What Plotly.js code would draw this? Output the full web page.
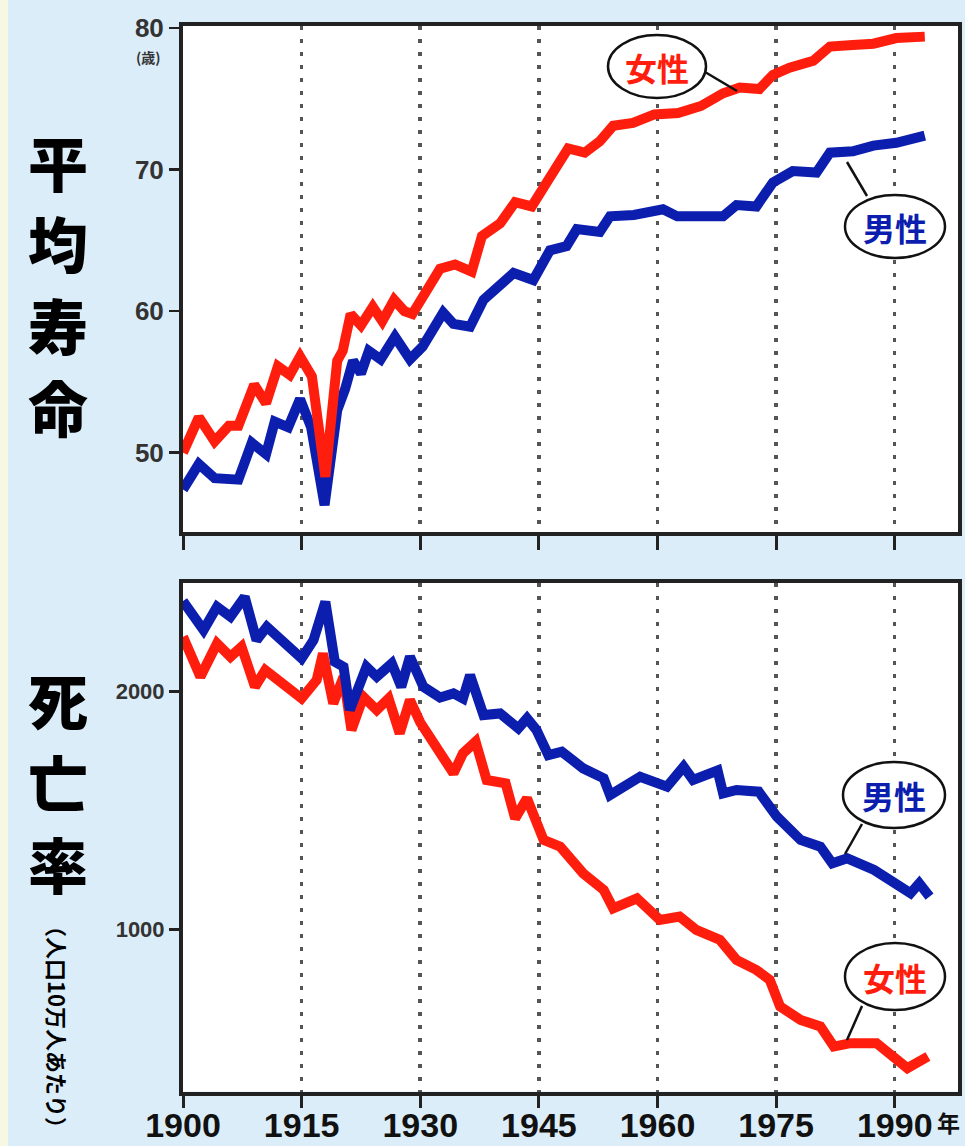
<!DOCTYPE html>
<html><head><meta charset="utf-8">
<script src="https://cdn.plot.ly/plotly-3.0.1.min.js"></script>
<style>html,body{margin:0;padding:0;background:#dbedf9;} #chart{width:965px;height:1146px;}</style>
</head><body><div id="chart"></div>
<script>
// ---- Data ----
const lifeYearsF = [1900,1902,1904,1905.8,1907,1909,1910.5,1912,1913.5,1914.8,1916.3,1918,1919.5,1920.2,1921.2,1922.5,1924,1925.2,1926.7,1928,1929,1930.6,1932.5,1934.4,1936.5,1937.8,1940.1,1942,1944.1,1946,1948.7,1950.8,1952.7,1954.4,1956.9,1959.6,1962.6,1965.5,1968.3,1970.4,1972.9,1974.6,1976.7,1979.7,1981.8,1984.7,1987.3,1990.2,1992.3,1993.8];
const lifeF      = [50.0,52.5,50.8,51.9,51.9,54.8,53.5,56.1,55.5,56.8,55.4,48.3,56.5,57.2,59.8,59.0,60.3,59.3,60.8,60.0,59.8,61.3,63.0,63.3,62.8,65.3,66.2,67.7,67.4,69.1,71.5,71.2,72.0,73.1,73.3,73.9,74.0,74.5,75.4,75.8,75.7,76.7,77.2,77.7,78.7,78.8,78.9,79.3,79.4,79.4];
const lifeYearsM = [1900,1902,1904,1907,1908.7,1910.5,1911.6,1913.3,1914.8,1916.2,1917.9,1919.5,1920.5,1921.5,1922.5,1923.5,1925,1926.8,1928.7,1930.3,1932.9,1934.2,1936.3,1938,1941.8,1944.3,1946.4,1948.5,1949.8,1952.7,1954,1957,1960.7,1962.5,1968.3,1970,1972.5,1974.6,1977.1,1980.1,1981.8,1984.7,1987.3,1990.2,1993.8];
const lifeM      = [47.4,49.2,48.2,48.1,50.7,49.9,52.2,51.8,53.8,51.8,46.3,53.0,54.5,56.5,55.6,57.2,56.6,58.2,56.6,57.5,59.9,59.1,58.9,60.8,62.7,62.2,64.3,64.6,65.8,65.6,66.7,66.8,67.2,66.7,66.7,67.5,67.4,69.1,69.9,69.8,71.2,71.3,71.7,71.9,72.4];

const mortYearsM = [1900,1902.6,1904.3,1906,1907.8,1909.3,1910.6,1915,1916.5,1918,1919.2,1920.3,1921.1,1923.2,1924.5,1926.4,1927.6,1928.7,1930.4,1932.5,1934.2,1935.4,1936.3,1938,1940.1,1942.4,1943.5,1944.7,1946.2,1947.9,1950.6,1953.2,1954,1955.7,1957.8,1961.2,1963.3,1964.5,1967.6,1968.3,1970,1972.8,1975.1,1978.1,1980.6,1982.1,1984,1987.4,1989.9,1992,1993.1,1994.4];
const mortM      = [2380,2258,2356,2314,2398,2216,2272,2139,2216,2377,2125,2104,1922,2104,2062,2118,2020,2146,2020,1975,1992,1971,2069,1901,1908,1845,1887,1838,1733,1747,1677,1635,1565,1600,1642,1600,1684,1628,1668,1572,1586,1579,1474,1376,1348,1278,1299,1250,1194,1152,1194,1138];
const mortYearsF = [1900,1902.2,1904.3,1906,1907.4,1909.1,1910.4,1915,1916.9,1917.7,1919,1920.3,1921.3,1922.8,1924.5,1926,1927.4,1928.7,1930,1932.3,1934.2,1935.4,1937,1938.4,1940.8,1942,1943.5,1945.6,1947.7,1950.6,1953.2,1954.4,1957.4,1960.3,1962.8,1964.9,1967.9,1970,1972.5,1974.2,1975.5,1978.1,1980.6,1982.3,1984.4,1987.7,1989.9,1991.6,1994.2];
const mortF      = [2230,2062,2202,2146,2188,2020,2090,1971,2048,2160,1950,2062,1838,1978,1922,1971,1824,1964,1870,1754,1656,1740,1789,1628,1614,1467,1551,1376,1348,1236,1166,1089,1131,1040,1054,998,956,872,830,788,676,620,592,508,522,522,466,417,466];

const xTickVals   = [1900,1915,1930,1945,1960,1975,1990];
const xTickText   = ['1900','1915','1930','1945','1960','1975','1990'];
const lifeTicks   = [50,60,70,80];
const mortTicks   = [1000,2000];
const labelF = '女性', labelM = '男性';
const title1 = ['平','均','寿','命'];
const title2 = ['死','亡','率'];

// ---- Styling ----
const W = 965, H = 1146;
const px = x => x / W, py = y => 1 - y / H;
const RED = '#ff1e0e', BLUE = '#0c1eae';
const numFont = '"Liberation Sans",Arial,sans-serif';
const jpFont = '"Noto Sans CJK JP","Noto Sans CJK SC",sans-serif';

const traces = [
  {x: lifeYearsM, y: lifeM, xaxis:'x', yaxis:'y', mode:'lines', line:{color:BLUE, width:10}, hoverinfo:'skip'},
  {x: lifeYearsF, y: lifeF, xaxis:'x', yaxis:'y', mode:'lines', line:{color:RED, width:10}, hoverinfo:'skip'},
  {x: mortYearsF, y: mortF, xaxis:'x2', yaxis:'y2', mode:'lines', line:{color:RED, width:10}, hoverinfo:'skip'},
  {x: mortYearsM, y: mortM, xaxis:'x2', yaxis:'y2', mode:'lines', line:{color:BLUE, width:10}, hoverinfo:'skip'}
];

const xCommon = {
  range:[1900,1998], tickmode:'array', tickvals:xTickVals, ticktext:xTickText,
  showgrid:true, gridcolor:'#555', gridwidth:3.5, griddash:'4px,9px',
  showline:true, linecolor:'#222', linewidth:4, mirror:true,
  ticks:'outside', ticklen:14, tickwidth:3, tickcolor:'#222', zeroline:false, fixedrange:true
};
const yCommon = {
  showgrid:false, showline:true, linecolor:'#222', linewidth:4, mirror:true,
  ticks:'outside', ticklen:10, tickwidth:2.5, tickcolor:'#222', zeroline:false,
  tickfont:{family:numFont, size:26, color:'#333', weight:'bold'}, fixedrange:true
};

const layout = {
  width:W, height:H, margin:{l:0,r:0,t:0,b:0},
  paper_bgcolor:'#dbedf9', plot_bgcolor:'#ffffff', showlegend:false,
  xaxis: Object.assign({}, xCommon, {domain:[px(183),px(958)], anchor:'y', showticklabels:false}),
  yaxis: Object.assign({}, yCommon, {domain:[py(532),py(26)], anchor:'x', range:[44.4,80.15], tickmode:'array', tickvals:lifeTicks}),
  xaxis2: Object.assign({}, xCommon, {domain:[px(183),px(958)], anchor:'y2', ticklen:12, ticklabelstandoff:-11,
      tickfont:{family:numFont, size:34, color:'#111', weight:'bold'}}),
  yaxis2: Object.assign({}, yCommon, {domain:[py(1091.5),py(583)], anchor:'x2', range:[319,2456], tickmode:'array', tickvals:mortTicks,
      tickfont:{family:numFont, size:22, color:'#333', weight:'bold'}}),
  shapes: [
    {type:'rect', xref:'paper', yref:'paper', x0:0, x1:px(8), y0:0, y1:1, fillcolor:'#f7f8e2', line:{width:0}, layer:'below'},
    // leader lines
    {type:'line', xref:'paper', yref:'paper', x0:px(705), y0:py(72), x1:px(737), y1:py(91), line:{color:'#111', width:2.5}},
    {type:'line', xref:'paper', yref:'paper', x0:px(867), y0:py(196), x1:px(847), y1:py(162), line:{color:'#111', width:2.5}},
    {type:'line', xref:'paper', yref:'paper', x0:px(862), y0:py(824), x1:px(845), y1:py(854), line:{color:'#111', width:2.5}},
    {type:'line', xref:'paper', yref:'paper', x0:px(862), y0:py(1006), x1:px(847), y1:py(1040), line:{color:'#111', width:2.5}},
    // bubbles
    {type:'circle', xref:'paper', yref:'paper', x0:px(608), x1:px(706), y0:py(98), y1:py(35), fillcolor:'#fff', line:{color:'#111', width:2.5}},
    {type:'circle', xref:'paper', yref:'paper', x0:px(845), x1:px(945), y0:py(258), y1:py(195), fillcolor:'#fff', line:{color:'#111', width:2.5}},
    {type:'circle', xref:'paper', yref:'paper', x0:px(843), x1:px(945), y0:py(828), y1:py(762), fillcolor:'#fff', line:{color:'#111', width:2.5}},
    {type:'circle', xref:'paper', yref:'paper', x0:px(845), x1:px(945), y0:py(1010), y1:py(943), fillcolor:'#fff', line:{color:'#111', width:2.5}}
  ],
  annotations: []
};

function ann(text, x, y, size, color, extra){
  layout.annotations.push(Object.assign({text:text, xref:'paper', yref:'paper', x:px(x), y:py(y),
    xanchor:'center', yanchor:'middle', showarrow:false, borderpad:0,
    font:{family:jpFont, size:size, color:color, weight:'bold'}}, extra||{}));
}
// bubble labels
ann(labelF, 657, 67, 32, RED);
ann(labelM, 895, 227, 32, BLUE);
ann(labelM, 894, 795, 32, BLUE);
ann(labelF, 895, 977, 32, RED);
// big vertical titles: one annotation per character, stacked
const bigFont = {family:jpFont, size:60, color:'#000', weight:900};
title1.forEach((c,i)=>ann(c, 58, 160 + i*82, 60, '#000', {font:bigFont}));
title2.forEach((c,i)=>ann(c, 58, 698 + i*82, 60, '#000', {font:bigFont}));
// unit notes
ann('（人口10万人あたり）', 58, 914, 22, '#000', {textangle:90, yanchor:'top'});
ann('(歳)', 148, 57, 14, '#333');
ann('年', 948, 1122, 23, '#111');

Plotly.newPlot('chart', traces, layout, {displayModeBar:false, staticPlot:true});
</script></body></html>
